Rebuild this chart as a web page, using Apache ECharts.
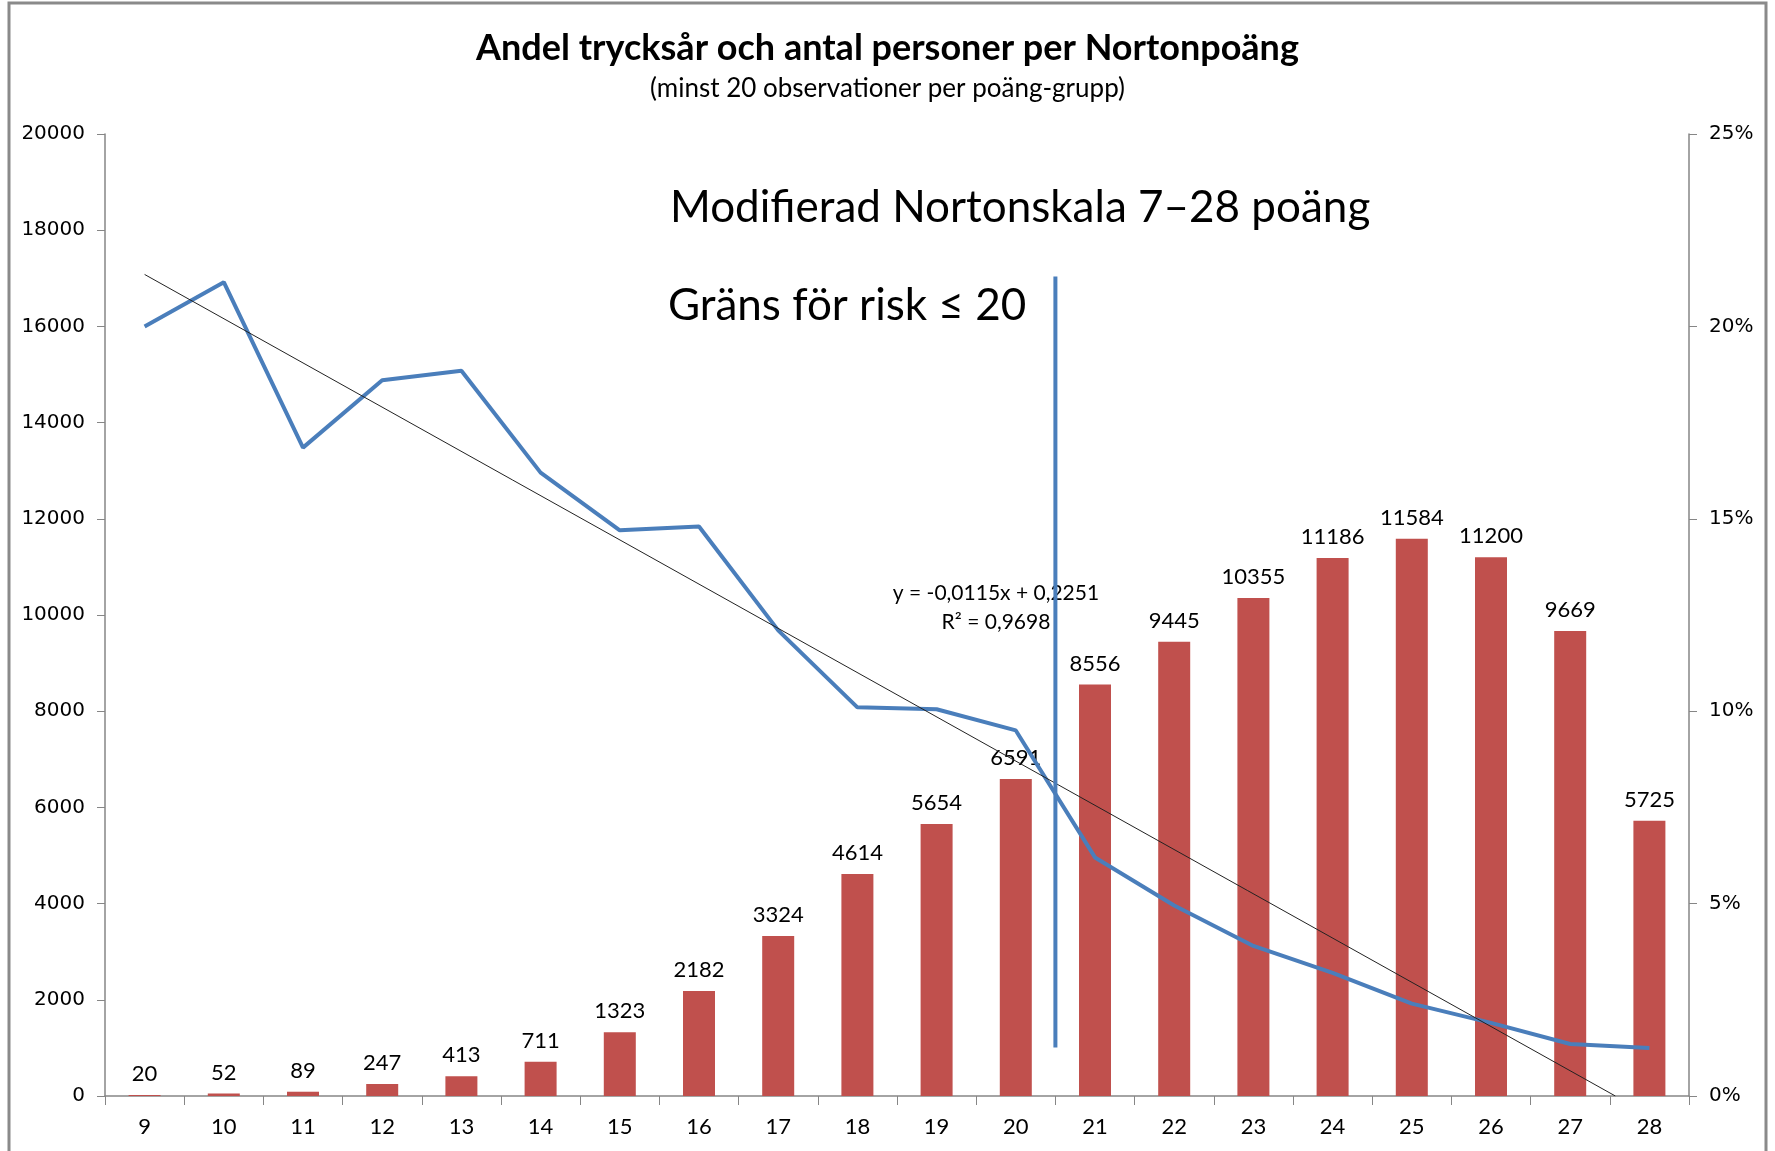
<!DOCTYPE html>
<html>
<head>
<meta charset="utf-8">
<script src="https://cdn.jsdelivr.net/npm/echarts@6/dist/echarts.min.js"></script>
<style>
  html, body { margin: 0; padding: 0; background: #fff; }
  #main { width: 1775px; height: 1151px; }
</style>
</head>
<body>
<div id="main"></div>
<script>
// Nortonpoäng
var categories = ['9', '10', '11', '12', '13', '14', '15', '16', '17', '18', '19', '20', '21', '22', '23', '24', '25', '26', '27', '28']
// antal personer (vänster axel)
var personer = [20, 52, 89, 247, 413, 711, 1323, 2182, 3324, 4614, 5654, 6591, 8556, 9445, 10355, 11186, 11584, 11200, 9669, 5725]
// andel trycksår i procent (höger axel), avläst
var andel = [20.0, 21.15, 16.85, 18.6, 18.85, 16.2, 14.7, 14.8, 12.1, 10.1, 10.05, 9.5, 6.2, 4.95, 3.9, 3.2, 2.4, 1.9, 1.35, 1.25]
// linjär trendlinje, ändpunkter avlästa
var trend = [[9, 21.35], [27.57, 0]]
// gränslinje för risk
var grans = [[20.5, 21.3], [20.5, 1.26]]

var chart = echarts.init(document.getElementById('main'))
var font = 'Lato, "Open Sans", sans-serif'
var axisGray = '#868686'

var option = {
  animation: false,
  backgroundColor: '#fff',
  grid: { left: 105, right: 86, top: 134, bottom: 55 },
  graphic: [
    {
      type: 'rect',
      shape: { x: 9, y: 3, width: 1757, height: 1160 },
      style: { fill: 'none', stroke: '#8a8a8a', lineWidth: 3 },
      silent: true
    },
    {
      type: 'text', left: 'center', top: 30,
      style: { text: 'Andel trycksår och antal personer per Nortonpoäng', font: 'bold 36px ' + font, fill: '#000' }
    },
    {
      type: 'text', left: 'center', top: 76,
      style: { text: '(minst 20 observationer per poäng-grupp)', font: '26px ' + font, fill: '#000' }
    },
    {
      type: 'text', left: 670, top: 186,
      style: { text: 'Modifierad Nortonskala 7–28 poäng', font: '44px ' + font, fill: '#000' }
    },
    {
      type: 'text', left: 668, top: 284,
      style: { text: 'Gräns för risk ≤ 20', font: '44px ' + font, fill: '#000' }
    },
    {
      type: 'text', x: 996, y: 583,
      style: { text: 'y = -0,0115x + 0,2251', font: '21px ' + font, fill: '#000', align: 'center' }
    },
    {
      type: 'text', x: 996, y: 612,
      style: { text: 'R² = 0,9698', font: '21px ' + font, fill: '#000', align: 'center' }
    }
  ],
  xAxis: [
    {
      type: 'category',
      data: categories,
      boundaryGap: true,
      axisLine: { lineStyle: { color: axisGray, width: 1.5 } },
      axisTick: { show: true, length: 9, lineStyle: { color: axisGray } },
      axisLabel: { color: '#000', fontSize: 22, fontFamily: font, margin: 20 },
      splitLine: { show: false }
    },
    {
      type: 'value',
      min: 8.5,
      max: 28.5,
      show: false,
      splitLine: { show: false }
    }
  ],
  yAxis: [
    {
      type: 'value',
      min: 0,
      max: 20000,
      interval: 2000,
      axisLine: { show: true, lineStyle: { color: axisGray, width: 1.5 } },
      axisTick: { show: true, length: 8, lineStyle: { color: axisGray } },
      axisLabel: {
        color: '#000', fontSize: 20, fontFamily: 'DejaVu Sans', margin: 20,
        formatter: function (v) { return String(v) }
      },
      splitLine: { show: false }
    },
    {
      type: 'value',
      min: 0,
      max: 25,
      interval: 5,
      position: 'right',
      axisLine: { show: true, lineStyle: { color: axisGray, width: 1.5 } },
      axisTick: { show: true, length: 8, lineStyle: { color: axisGray } },
      axisLabel: { color: '#000', fontSize: 20, fontFamily: 'DejaVu Sans', margin: 20, formatter: '{value}%' },
      splitLine: { show: false }
    }
  ],
  series: [
    {
      name: 'Antal personer',
      type: 'bar',
      data: personer,
      barWidth: 32,
      itemStyle: { color: '#C0504D' },
      label: { show: true, position: 'top', distance: 10, color: '#000', fontSize: 22, fontFamily: font }
    },
    {
      name: 'Andel trycksår',
      type: 'line',
      yAxisIndex: 1,
      data: andel,
      symbol: 'none',
      lineStyle: { color: '#4A7EBB', width: 4 },
      z: 3
    },
    {
      name: 'Trend',
      type: 'line',
      xAxisIndex: 1,
      yAxisIndex: 1,
      data: trend,
      symbol: 'none',
      lineStyle: { color: '#222', width: 1 },
      z: 4
    },
    {
      name: 'Gräns',
      type: 'line',
      xAxisIndex: 1,
      yAxisIndex: 1,
      data: grans,
      symbol: 'none',
      lineStyle: { color: '#4A7EBB', width: 4 },
      z: 5
    }
  ]
}

chart.setOption(option)
</script>
</body>
</html>
